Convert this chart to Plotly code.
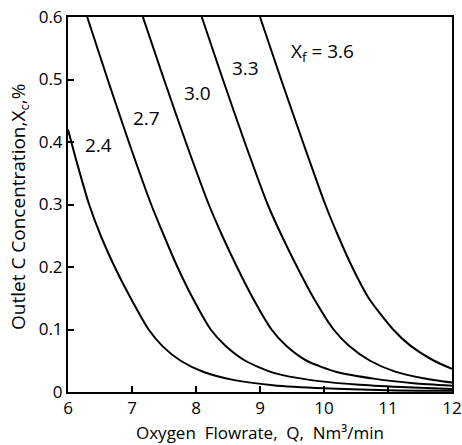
import plotly.graph_objects as go

# Feed carbon concentration labels (Xf)
xf_labels = ["2.4", "2.7", "3.0", "3.3", "3.6"]

# Oxygen flowrate Q (Nm3/min) and outlet C concentration Xc (%) per curve
q_24 = [6.0, 6.15, 6.33, 6.52, 6.73, 6.97, 7.26, 7.48, 7.76, 8.12, 8.6, 9.2, 10.0, 11.0, 12.0]
x_24 = [0.42, 0.363, 0.30, 0.248, 0.20, 0.152, 0.10, 0.073, 0.05, 0.032, 0.019, 0.011, 0.006, 0.003, 0.002]

q_27 = [6.30, 6.62, 6.95, 7.30, 7.50, 7.71, 7.95, 8.23, 8.46, 8.77, 9.2, 9.8, 10.5, 11.2, 12.0]
x_27 = [0.60, 0.50, 0.40, 0.30, 0.25, 0.20, 0.15, 0.10, 0.074, 0.05, 0.031, 0.019, 0.012, 0.008, 0.005]

q_30 = [7.17, 7.50, 7.84, 8.20, 8.41, 8.64, 8.89, 9.18, 9.41, 9.73, 10.2, 10.8, 11.4, 12.0]
x_30 = [0.60, 0.50, 0.40, 0.30, 0.25, 0.20, 0.15, 0.10, 0.074, 0.05, 0.032, 0.021, 0.014, 0.010]

q_33 = [8.09, 8.42, 8.76, 9.12, 9.34, 9.58, 9.84, 10.15, 10.39, 10.72, 11.1, 11.55, 12.0]
x_33 = [0.60, 0.50, 0.40, 0.30, 0.25, 0.20, 0.15, 0.10, 0.074, 0.05, 0.033, 0.022, 0.015]

q_36 = [9.0, 9.33, 9.67, 10.02, 10.22, 10.44, 10.70, 11.08, 11.34, 11.72, 12.0]
x_36 = [0.60, 0.50, 0.40, 0.30, 0.25, 0.20, 0.15, 0.10, 0.075, 0.05, 0.037]

# Label anchor positions (data coordinates)
label_q = [6.48, 7.22, 8.03, 8.78, 9.98]
label_x = [0.395, 0.438, 0.478, 0.518, 0.544]
label_text = ["2.4", "2.7", "3.0", "3.3", "X<sub>f</sub> = 3.6"]

# Axis ticks and titles
x_ticks = [6, 7, 8, 9, 10, 11, 12]
y_ticks = [0, 0.1, 0.2, 0.3, 0.4, 0.5, 0.6]
y_ticktext = ["0", "0.1", "0.2", "0.3", "0.4", "0.5", "0.6"]
x_title = "Oxygen\u00a0 Flowrate,\u00a0 Q,\u00a0 Nm\u00b3/min"
y_title = "Outlet C Concentration,X<sub>c</sub>,%"

FONT = "Open Sans"

fig = go.Figure()
for q, xc, name in zip([q_24, q_27, q_30, q_33, q_36],
                       [x_24, x_27, x_30, x_33, x_36], xf_labels):
    fig.add_trace(go.Scatter(x=q, y=xc, mode="lines", name=name,
                             line=dict(color="black", width=2, shape="spline", smoothing=0.7),
                             showlegend=False, hoverinfo="skip"))

for q, xc, t in zip(label_q, label_x, label_text):
    fig.add_annotation(x=q, y=xc, text=t, showarrow=False,
                       font=dict(family=FONT, size=19, color="black"),
                       xanchor="center", yanchor="middle")

# Axis titles as paper-positioned annotations
fig.add_annotation(x=0.5, y=-0.1413, xref="paper", yref="paper", text=x_title,
                   showarrow=False, xanchor="center", yanchor="bottom", borderpad=0,
                   font=dict(family=FONT, size=17, color="black"))
fig.add_annotation(x=-0.128, y=0.493, xref="paper", yref="paper", text=y_title,
                   showarrow=False, xanchor="center", yanchor="middle", textangle=-90,
                   font=dict(family=FONT, size=19, color="black"))

axis_common = dict(showline=True, linecolor="black", linewidth=2, mirror=True,
                   ticks="inside", ticklen=6, tickwidth=1.5, tickcolor="black",
                   showgrid=False, zeroline=False, automargin=False,
                   ticklabeloverflow="allow",
                   tickfont=dict(family=FONT, size=17, color="black"))

fig.update_xaxes(range=[6, 12], tickvals=x_ticks, **axis_common)
fig.update_yaxes(range=[0, 0.6], tickvals=y_ticks, ticktext=y_ticktext, **axis_common)

fig.update_layout(width=462, height=445, margin=dict(l=68, r=10, t=17, b=53),
                  paper_bgcolor="white", plot_bgcolor="white")

fig.write_html("out.html")
